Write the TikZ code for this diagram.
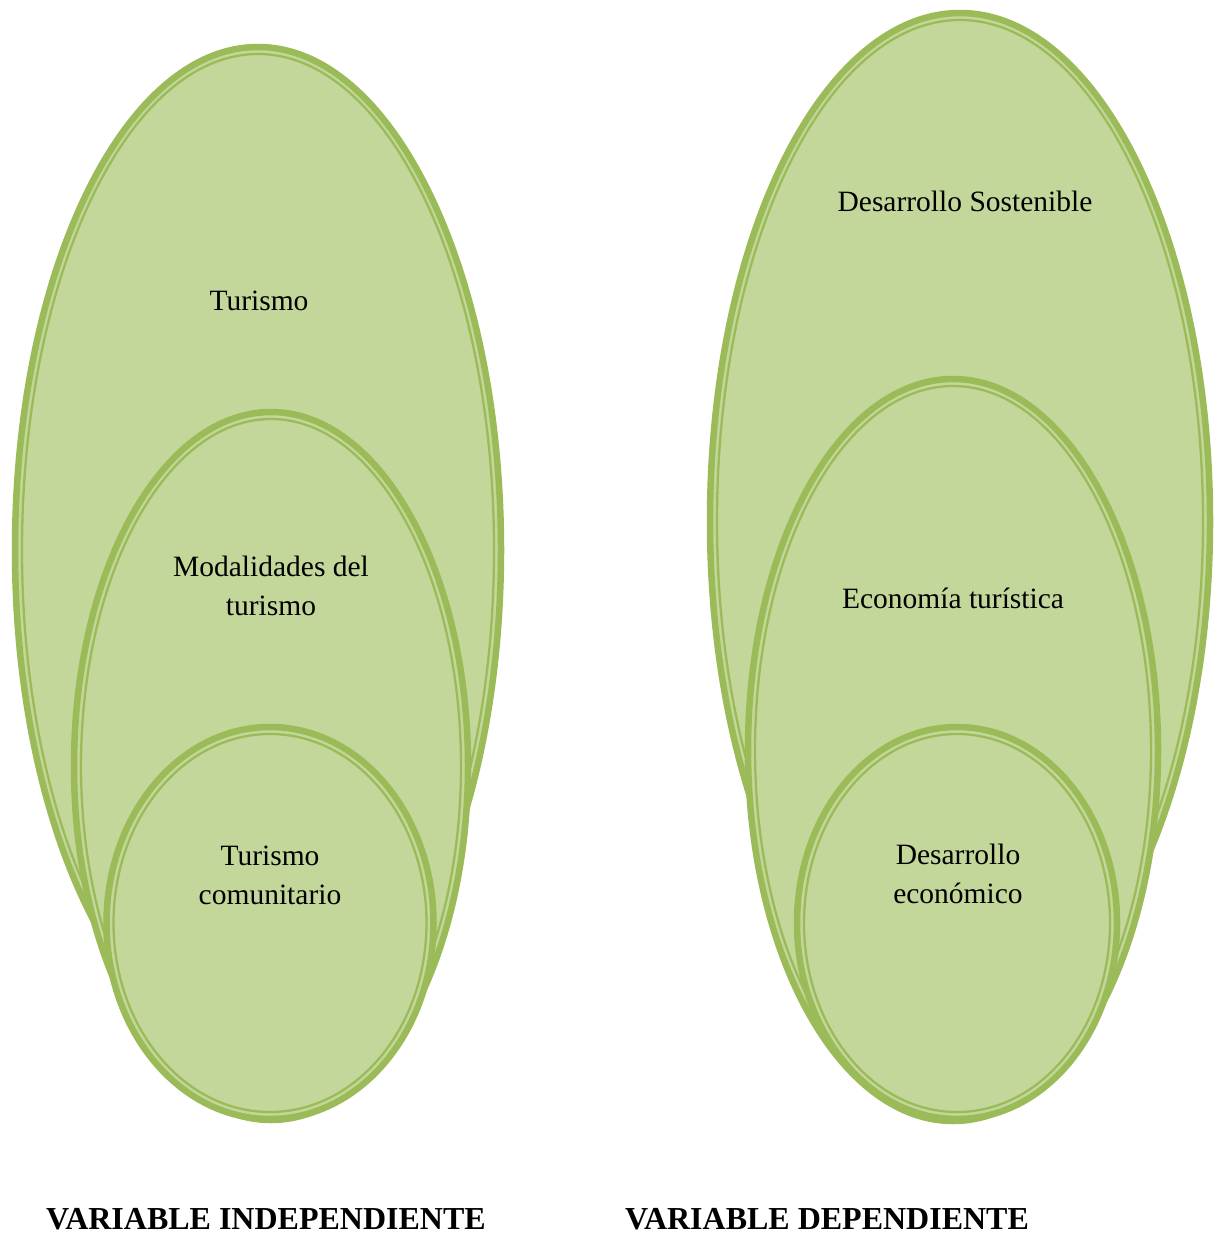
\documentclass[tikz,border=0pt]{standalone}
\usepackage{fontspec}
\setmainfont{Liberation Serif}
\usetikzlibrary{shapes.geometric}
\definecolor{vfill}{HTML}{C4D79B}
\definecolor{vline}{HTML}{9BBB59}
\tikzset{
  ring/.style={ellipse, inner sep=0pt, outer sep=0pt, fill=vfill, draw=vline, line width=6.5pt},
  ringin/.style={ellipse, inner sep=0pt, outer sep=0pt, draw=vline, line width=2.3pt},
  lbl/.style={align=center, font=\fontsize{29.5}{39}\selectfont, inner sep=0pt},
  ttl/.style={font=\fontsize{32}{38}\selectfont\bfseries, inner sep=0pt}
}
\begin{document}
\begin{tikzpicture}[x=1pt,y=-1pt]
\useasboundingbox (0,0) rectangle (1221,1236);
% left group
\node[ring, minimum width=486pt, minimum height=1006pt] (lo) at (258,550) {};
\node[ringin, minimum width=472pt, minimum height=992pt] (loi) at (258,550) {};
\node[ring, minimum width=394pt, minimum height=708pt] (lm) at (271,766) {};
\node[ringin, minimum width=380pt, minimum height=694pt] (lmi) at (271,766) {};
\node[ring, minimum width=327pt, minimum height=392pt] (li) at (270,923) {};
\node[ringin, minimum width=313pt, minimum height=378pt] (lii) at (270,923) {};
% right group
\node[ring, minimum width=500pt, minimum height=1016pt] (ro) at (960,521) {};
\node[ringin, minimum width=486pt, minimum height=1002pt] (roi) at (960,521) {};
\node[ring, minimum width=410pt, minimum height=742pt] (rm) at (953,750) {};
\node[ringin, minimum width=396pt, minimum height=728pt] (rmi) at (953,750) {};
\node[ring, minimum width=320pt, minimum height=392pt] (ri) at (957,923) {};
\node[ringin, minimum width=306pt, minimum height=378pt] (rii) at (957,923) {};
% labels
\node[lbl] (t1) at (259,301) {Turismo};
\node[lbl] (t2) at (271,586) {Modalidades del\\turismo};
\node[lbl] (t3) at (270,875) {Turismo\\comunitario};
\node[lbl] (t4) at (965,201) {Desarrollo Sostenible};
\node[lbl] (t5) at (953,598) {Economía turística};
\node[lbl] (t6) at (958,874) {Desarrollo\\económico};
\node[ttl] (v1) at (266,1219) {VARIABLE INDEPENDIENTE};
\node[ttl] (v2) at (827,1219) {VARIABLE DEPENDIENTE};
\end{tikzpicture}
\end{document}
